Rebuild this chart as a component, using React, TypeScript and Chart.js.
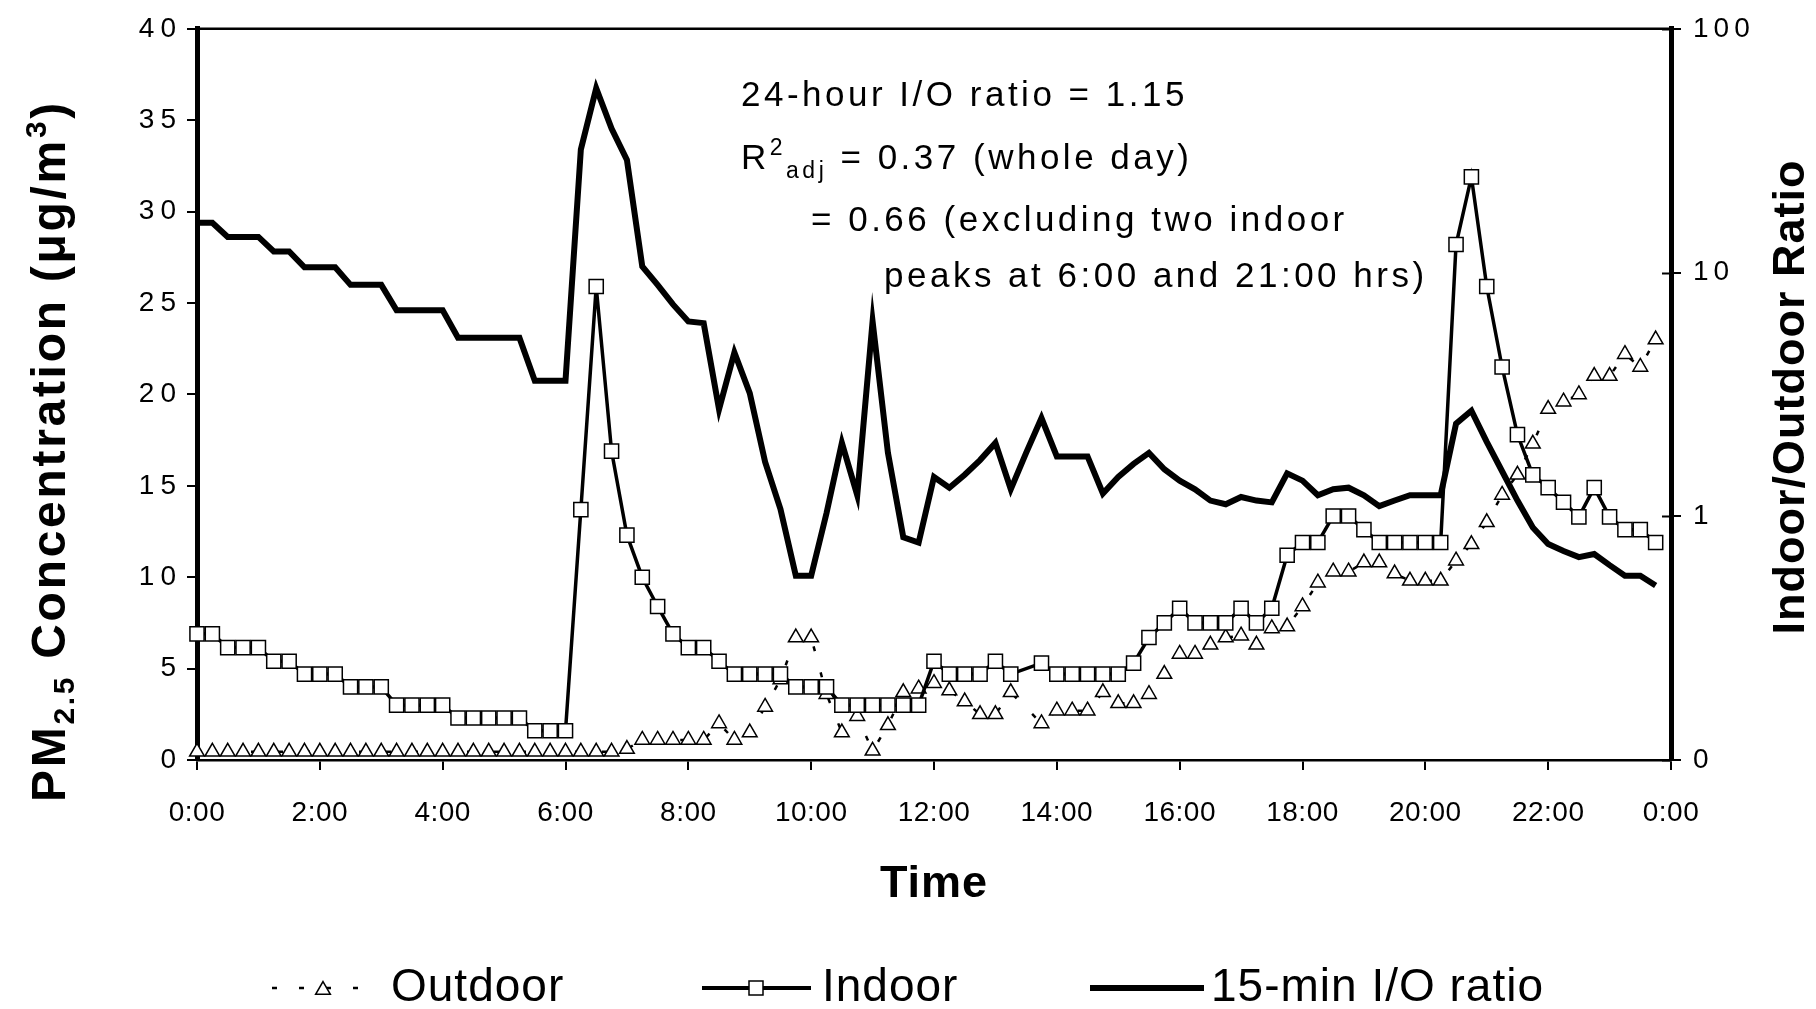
import { useEffect, useRef } from 'react';
import { Chart, registerables } from 'chart.js';

Chart.register(...registerables);

const FONT = "'Liberation Sans', Arial, Helvetica, sans-serif";

// 15-minute samples starting at 0:00
const STEP_HOURS = 0.25;
const X_TICK_HOURS = [0, 2, 4, 6, 8, 10, 12, 14, 16, 18, 20, 22, 24];
const RATIO_TICKS = [0.1, 1, 10, 100];

// Indoor PM2.5 (µg/m3)
const INDOOR = [
  6.9, 6.9, 6.15, 6.15, 6.15, 5.4, 5.4, 4.7, 4.7, 4.7, 4.0, 4.0, 4.0, 3.0, 3.0, 3.0,
  3.0, 2.3, 2.3, 2.3, 2.3, 2.3, 1.6, 1.6, 1.6, 13.7, 25.9, 16.9, 12.3, 10.0, 8.4, 6.9,
  6.15, 6.15, 5.4, 4.7, 4.7, 4.7, 4.7, 4.0, 4.0, 4.0, 3.0, 3.0, 3.0, 3.0, 3.0, 3.0,
  5.4, 4.7, 4.7, 4.7, 5.4, 4.7, null, 5.3, 4.7, 4.7, 4.7, 4.7, 4.7, 5.3, 6.7, 7.5,
  8.3, 7.5, 7.5, 7.5, 8.3, 7.5, 8.3, 11.2, 11.9, 11.9, 13.35, 13.35, 12.6, 11.9, 11.9, 11.9,
  11.9, 11.9, 28.2, 31.9, 25.9, 21.5, 17.8, 15.6, 14.9, 14.1, 13.3, 14.9, 13.3, 12.6, 12.6, 11.9,
];

// Outdoor PM2.5 (µg/m3)
const OUTDOOR = [
  0.45, 0.45, 0.45, 0.45, 0.45, 0.45, 0.45, 0.45, 0.45, 0.45, 0.45, 0.45, 0.45, 0.45, 0.45, 0.45,
  0.45, 0.45, 0.45, 0.45, 0.45, 0.45, 0.45, 0.45, 0.45, 0.45, 0.45, 0.45, 0.6, 1.1, 1.1, 1.1,
  1.1, 1.1, 2.0, 1.1, 1.5, 2.9, 4.4, 6.7, 6.7, 3.6, 1.5, 2.4, 0.5, 1.9, 3.7, 3.9,
  4.2, 3.8, 3.2, 2.5, 2.5, 3.7, null, 2.0, 2.7, 2.7, 2.7, 3.7, 3.1, 3.1, 3.6, 4.7,
  5.8, 5.8, 6.3, 6.7, 6.8, 6.3, 7.2, 7.3, 8.4, 9.7, 10.3, 10.3, 10.8, 10.8, 10.2, 9.8,
  9.8, 9.8, 10.9, 11.8, 13.0, 14.5, 15.6, 17.3, 19.2, 19.6, 20.0, 21.0, 21.0, 22.2, 21.5, 23.0,
];

// 15-min indoor/outdoor ratio (right, log axis)
const IO_RATIO = [
  16.0, 16.0, 14.0, 14.0, 14.0, 12.2, 12.2, 10.5, 10.5, 10.5, 8.9, 8.9, 8.9, 7.0, 7.0, 7.0,
  7.0, 5.4, 5.4, 5.4, 5.4, 5.4, 3.6, 3.6, 3.6, 32, 57, 39, 29, 10.6, 8.9, 7.4,
  6.3, 6.2, 2.75, 4.7, 3.2, 1.67, 1.07, 0.57, 0.57, 1.03, 2.0, 1.22, 6.3, 1.82, 0.82, 0.78,
  1.45, 1.31, 1.48, 1.7, 2.0, 1.29, 1.82, 2.53, 1.76, 1.76, 1.76, 1.24, 1.45, 1.64, 1.82, 1.56,
  1.4, 1.29, 1.16, 1.12, 1.2, 1.16, 1.14, 1.5, 1.4, 1.22, 1.29, 1.31, 1.22, 1.1, 1.16, 1.22,
  1.22, 1.22, 2.4, 2.71, 2.02, 1.53, 1.16, 0.9, 0.77, 0.72, 0.68, 0.7, 0.63, 0.57, 0.57, 0.52,
];

const SERIES_NAMES = ['Outdoor', 'Indoor', '15-min I/O ratio'];

const toPoints = (vals: (number | null)[]) => vals.map((v, i) => ({ x: i * STEP_HOURS, y: v }));

type Seg = { t: string; size: number; bold?: boolean; dy?: number };

function richWidth(ctx: CanvasRenderingContext2D, segs: Seg[]) {
  let w = 0;
  for (const s of segs) {
    ctx.font = `${s.bold ? 'bold ' : ''}${s.size}px ${FONT}`;
    w += ctx.measureText(s.t).width;
  }
  return w;
}

function drawRich(ctx: CanvasRenderingContext2D, segs: Seg[], x: number, y: number) {
  let cx = x;
  ctx.textAlign = 'left';
  ctx.textBaseline = 'alphabetic';
  for (const s of segs) {
    ctx.font = `${s.bold ? 'bold ' : ''}${s.size}px ${FONT}`;
    ctx.fillText(s.t, cx, y + (s.dy || 0));
    cx += ctx.measureText(s.t).width;
  }
}

function patchSpacing(scale: any, spacing: string) {
  if (scale.__spacingPatched) return;
  const orig = scale.drawLabels.bind(scale);
  scale.drawLabels = (area: any) => {
    const c = scale.ctx;
    c.save();
    c.letterSpacing = spacing;
    orig(area);
    c.restore();
  };
  scale.__spacingPatched = true;
}

function drawTriangle(ctx: CanvasRenderingContext2D, x: number, y: number, r: number) {
  ctx.beginPath();
  for (let k = 0; k < 3; k++) {
    const a = (k * 2 * Math.PI) / 3;
    const px = x + Math.sin(a) * r;
    const py = y - Math.cos(a) * r;
    if (k === 0) ctx.moveTo(px, py);
    else ctx.lineTo(px, py);
  }
  ctx.closePath();
  ctx.fillStyle = '#fff';
  ctx.fill();
  ctx.stroke();
}

const decorPlugin = {
  id: 'decor',
  afterDraw(chart: any) {
    const { ctx, chartArea } = chart;
    const { left, right, top } = chartArea;
    ctx.save();
    ctx.strokeStyle = '#000';
    ctx.fillStyle = '#000';

    // top frame line
    ctx.lineWidth = 2.5;
    ctx.beginPath();
    ctx.moveTo(left, top);
    ctx.lineTo(right, top);
    ctx.stroke();

    // inner tick marks on right axis
    const y1 = chart.scales.y1;
    ctx.lineWidth = 2;
    for (const v of RATIO_TICKS) {
      const py = Math.round(y1.getPixelForValue(v)) + 0.5;
      ctx.beginPath();
      ctx.moveTo(right - 9, py);
      ctx.lineTo(right, py);
      ctx.stroke();
    }

    // Left axis title (rotated)
    ctx.letterSpacing = '2.7px';
    const leftTitle: Seg[] = [
      { t: 'PM', size: 48, bold: true },
      { t: '2.5', size: 30, bold: true, dy: 9 },
      { t: ' Concentration (\u03bcg/m', size: 48, bold: true },
      { t: '3', size: 30, bold: true, dy: -19 },
      { t: ')', size: 48, bold: true },
    ];
    ctx.save();
    ctx.translate(48, 451);
    ctx.rotate(-Math.PI / 2);
    const lw = richWidth(ctx, leftTitle);
    drawRich(ctx, leftTitle, -lw / 2, 17);
    ctx.restore();

    // Right axis title
    ctx.letterSpacing = '1px';
    ctx.save();
    ctx.translate(1792, 397);
    ctx.rotate(-Math.PI / 2);
    ctx.font = `bold 45px ${FONT}`;
    ctx.textAlign = 'center';
    ctx.textBaseline = 'middle';
    ctx.fillText('Indoor/Outdoor Ratio', 0, 0);
    ctx.restore();

    // X axis title
    ctx.font = `bold 45px ${FONT}`;
    ctx.textAlign = 'center';
    ctx.textBaseline = 'middle';
    ctx.fillText('Time', (left + right) / 2, 885);

    // Annotation
    ctx.letterSpacing = '3.5px';
    ctx.textAlign = 'left';
    ctx.textBaseline = 'alphabetic';
    ctx.font = `35px ${FONT}`;
    ctx.fillText('24-hour I/O ratio = 1.15', 741, 106);
    drawRich(ctx, [
      { t: 'R', size: 35 },
      { t: '2', size: 23, dy: -14 },
      { t: 'adj', size: 23, dy: 9 },
      { t: ' = 0.37 (whole day)', size: 35 },
    ], 741, 169);
    ctx.font = `35px ${FONT}`;
    ctx.fillText('= 0.66 (excluding two indoor', 811, 231);
    ctx.fillText('peaks at 6:00 and 21:00 hrs)', 884, 287);

    // Legend
    const ly = 988;
    ctx.letterSpacing = '1px';
    // Outdoor
    ctx.lineWidth = 2.5;
    ctx.setLineDash([5, 22]);
    ctx.beginPath();
    ctx.moveTo(272, ly);
    ctx.lineTo(375, ly);
    ctx.stroke();
    ctx.setLineDash([]);
    ctx.lineWidth = 1.5;
    drawTriangle(ctx, 323, ly + 2, 8.5);
    // Indoor
    ctx.lineWidth = 4;
    ctx.beginPath();
    ctx.moveTo(702, ly);
    ctx.lineTo(811, ly);
    ctx.stroke();
    ctx.lineWidth = 1.5;
    ctx.fillStyle = '#fff';
    ctx.fillRect(749, ly - 7, 14, 14);
    ctx.strokeRect(749, ly - 7, 14, 14);
    ctx.fillStyle = '#000';
    // Ratio
    ctx.lineWidth = 6;
    ctx.beginPath();
    ctx.moveTo(1090, ly);
    ctx.lineTo(1204, ly);
    ctx.stroke();

    ctx.font = `46px ${FONT}`;
    ctx.textAlign = 'left';
    ctx.textBaseline = 'middle';
    ctx.fillText(SERIES_NAMES[0], 391, ly);
    ctx.fillText(SERIES_NAMES[1], 822, ly);
    ctx.fillText(SERIES_NAMES[2], 1211, ly);

    ctx.restore();
  },
};

export default function App() {
  const ref = useRef<HTMLCanvasElement | null>(null);

  useEffect(() => {
    if (!ref.current) return;
    const tickFont = { family: FONT, size: 28 };
    const chart = new Chart(ref.current, {
      type: 'line',
      data: {
        datasets: [
          {
            label: SERIES_NAMES[2],
            data: toPoints(IO_RATIO),
            yAxisID: 'y1',
            borderColor: '#000',
            borderWidth: 6,
            pointRadius: 0,
            tension: 0,
            order: 1,
            clip: false,
          },
          {
            label: SERIES_NAMES[1],
            data: toPoints(INDOOR),
            yAxisID: 'y',
            borderColor: '#000',
            borderWidth: 3.5,
            pointStyle: 'rect',
            pointRadius: 10,
            pointBorderWidth: 1.5,
            pointBorderColor: '#000',
            pointBackgroundColor: '#fff',
            spanGaps: true,
            tension: 0,
            order: 2,
            clip: false,
          },
          {
            label: SERIES_NAMES[0],
            data: toPoints(OUTDOOR),
            yAxisID: 'y',
            borderColor: '#000',
            borderWidth: 2.5,
            borderDash: [5, 22],
            pointStyle: 'triangle',
            pointRadius: 8.5,
            pointBorderWidth: 1.5,
            pointBorderColor: '#000',
            pointBackgroundColor: '#fff',
            spanGaps: true,
            tension: 0,
            order: 3,
            clip: false,
          },
        ],
      },
      options: {
        responsive: false,
        animation: false,
        events: [],
        layout: { padding: { top: 25, left: 0, right: 0, bottom: 0 } },
        plugins: { legend: { display: false }, tooltip: { enabled: false } },
        scales: {
          x: {
            type: 'linear',
            min: 0,
            max: 24,
            afterBuildTicks: (s: any) => {
              s.ticks = X_TICK_HOURS.map((v) => ({ value: v }));
            },
            ticks: {
              callback: (v: any) => `${Number(v) % 24}:00`,
              font: { family: FONT, size: 28 },
              color: '#000',
              padding: 26,
              maxRotation: 0,
              autoSkip: false,
            },
            grid: { drawOnChartArea: false, drawTicks: true, tickLength: 10, color: '#000', lineWidth: 2 },
            border: { display: true, color: '#000', width: 2.5 },
            afterFit: (s: any) => {
              s.height = 249;
              patchSpacing(s, '0.5px');
            },
          },
          y: {
            type: 'linear',
            position: 'left',
            min: 0,
            max: 40,
            ticks: { stepSize: 5, font: tickFont, color: '#000', padding: 5 },
            grid: { drawOnChartArea: false, drawTicks: true, tickLength: 10, color: '#000', lineWidth: 2 },
            border: { display: true, color: '#000', width: 5 },
            afterFit: (s: any) => {
              s.width = 197;
              patchSpacing(s, '6px');
            },
          },
          y1: {
            type: 'logarithmic',
            position: 'right',
            min: 0.1,
            max: 100,
            afterBuildTicks: (s: any) => {
              s.ticks = RATIO_TICKS.map((v) => ({ value: v }));
            },
            ticks: {
              callback: (v: any) => String(Math.round(Number(v))),
              font: tickFont,
              color: '#000',
              padding: 12,
              autoSkip: false,
            },
            grid: { drawOnChartArea: false, drawTicks: true, tickLength: 10, color: '#000', lineWidth: 2 },
            border: { display: true, color: '#000', width: 5 },
            afterFit: (s: any) => {
              s.width = 145;
              patchSpacing(s, '5px');
            },
          },
        },
      },
      plugins: [decorPlugin],
    } as any);
    return () => chart.destroy();
  }, []);

  return (
    <div style={{ position: 'absolute', left: 0, top: 0, width: 1816, height: 1009, background: '#fff' }}>
      <canvas ref={ref} width={1816} height={1009} style={{ display: 'block' }} />
    </div>
  );
}
